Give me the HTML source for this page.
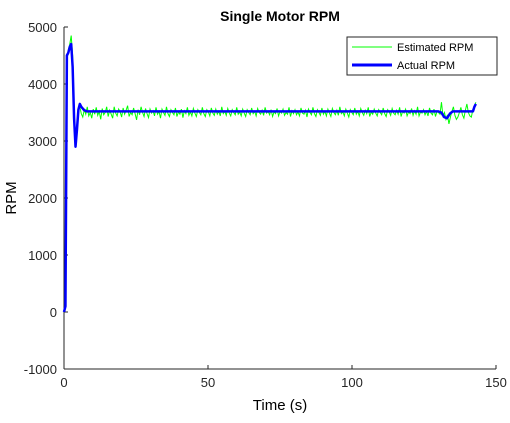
<!DOCTYPE html>
<html><head><meta charset="utf-8"><style>
body{margin:0;background:#fff;}
svg text{font-family:"Liberation Sans",Arial,sans-serif;}
</style></head><body>
<svg id="chart" width="510" height="418" xmlns="http://www.w3.org/2000/svg">
<rect width="510" height="418" fill="#fff"/>
<text x="280" y="21" text-anchor="middle" font-size="14" font-weight="bold">Single Motor RPM</text>
<g id="axes"></g>
<g id="series"></g>
<text x="280" y="410" text-anchor="middle" font-size="15">Time (s)</text>
<text transform="translate(16,198) rotate(-90)" text-anchor="middle" font-size="15">RPM</text>
<g>
<rect x="347" y="37" width="150" height="38" fill="#fff" stroke="#262626" stroke-width="1"/>
<line x1="352" y1="47" x2="392" y2="47" stroke="#00ff00" stroke-width="1"/>
<text x="397" y="51" font-size="11">Estimated RPM</text>
<line x1="352" y1="65" x2="392" y2="65" stroke="#0000ff" stroke-width="3"/>
<text x="397" y="69" font-size="11">Actual RPM</text>
</g>
</svg>
<script>
const xTicks=[0,50,100,150];
const yTicks=[-1000,0,1000,2000,3000,4000,5000];
const estTime=[0,0.5,1,1.5,2,2.5,3,3.5,4,4.5,5,5.5];
const estStart=[0,100,4400,4600,4700,4850,4500,3600,3000,3300,3550,3600];
const estSteady=[3480,3420,3550,3470,3600,3440,3500,3400,3560,3470,3590,3450,3520,3380,3570,3460,3500,3600,3430,3540,3470,3400,3600,3490,3440,3560,3510,3420,3580,3470,
3540,3620,3430,3500,3460,3580,3480,3370,3550,3460,3600,3500,3430,3570,3480,3410,3560,3490,3530,3440,3590,3470,3520,3400,3560,3500,3450,3600,3480,3430,
3550,3500,3460,3580,3430,3510,3470,3560,3410,3530,3480,3590,3450,3510,3440,3570,3490,3430,3550,3500,3460,3590,3480,3430,3550,3510,3440,3580,3490,3450,
3560,3470,3520,3440,3600,3480,3520,3450,3570,3490,3440,3550,3500,3460,3590,3470,3510,3440,3560,3490,3430,3550,3500,3460,3580,3480,3520,3440,3570,3500,
3470,3540,3450,3590,3490,3520,3460,3550,3430,3510,3480,3570,3440,3520,3490,3560,3450,3500,3470,3590,3430,3530,3480,3550,3460,3510,3440,3580,3490,3470,
3540,3420,3560,3500,3460,3590,3480,3430,3550,3500,3450,3580,3470,3520,3440,3560,3490,3430,3570,3500,3460,3540,3450,3600,3480,3510,3440,3560,3490,3420,
3550,3500,3460,3580,3470,3520,3440,3570,3500,3450,3540,3480,3590,3430,3510,3470,3560,3490,3440,3550,3500,3460,3580,3480,3430,3550,3510,3450,3570,3490,
3460,3540,3470,3590,3430,3520,3490,3560,3440,3510,3480,3570,3450,3530,3470,3600,3440,3510,3490,3550,3460,3520,3440,3580,3490,3460,3560,3430,3520,3500,
3470,3680,3440,3500,3380,3460,3300,3420,3520,3600,3450,3380,3420,3500,3590,3460,3400,3540,3650,3500,3440,3420,3550,3600,3680];
const actTime=[0,0.5,1,1.5,2,2.5,3,3.5,4,4.5,5,5.5,6,7,8,130,131,132,133,134,135,140,142,142.5,143];
const actVals=[0,100,4500,4550,4650,4700,4300,3400,2900,3200,3550,3650,3600,3540,3520,3520,3500,3420,3400,3480,3520,3520,3520,3600,3650];
const X=v=>64+(v/150)*432, Y=v=>312-(v/1000)*57;
const ns="http://www.w3.org/2000/svg";
const ax=document.getElementById('axes'), sr=document.getElementById('series');
function mk(tag,attrs,parent){const e=document.createElementNS(ns,tag);for(const k in attrs)e.setAttribute(k,attrs[k]);parent.appendChild(e);return e;}
const xa=mk('line',{x1:64,y1:369,x2:496,y2:369,stroke:'#262626'},ax);


const ya=mk('line',{x1:64,y1:27,x2:64,y2:369,stroke:'#262626'},ax);


xTicks.forEach(t=>{mk('line',{x1:X(t),y1:369,x2:X(t),y2:365,stroke:'#262626'},ax);
 const tx=mk('text',{x:X(t),y:387,'text-anchor':'middle','font-size':13,fill:'#262626'},ax);tx.textContent=t;
 
 });
yTicks.forEach(t=>{mk('line',{x1:64,y1:Y(t),x2:68,y2:Y(t),stroke:'#262626'},ax);
 const tx=mk('text',{x:57,y:Y(t)+5,'text-anchor':'end','font-size':13,fill:'#262626'},ax);tx.textContent=t;
 
 });
let ep=estTime.map((t,i)=>[t,estStart[i]]);
const step=(143-6)/(estSteady.length-1);
estSteady.forEach((v,i)=>ep.push([6+i*step,v]));
const g=mk('polyline',{points:ep.map(p=>X(p[0])+','+Y(p[1])).join(' '),fill:'none',stroke:'#00ff00','stroke-width':1},sr);


const b=mk('polyline',{points:actTime.map((t,i)=>X(t)+','+Y(actVals[i])).join(' '),fill:'none',stroke:'#0000ff','stroke-width':2.5,'stroke-linejoin':'round'},sr);


</script>
</body></html>
